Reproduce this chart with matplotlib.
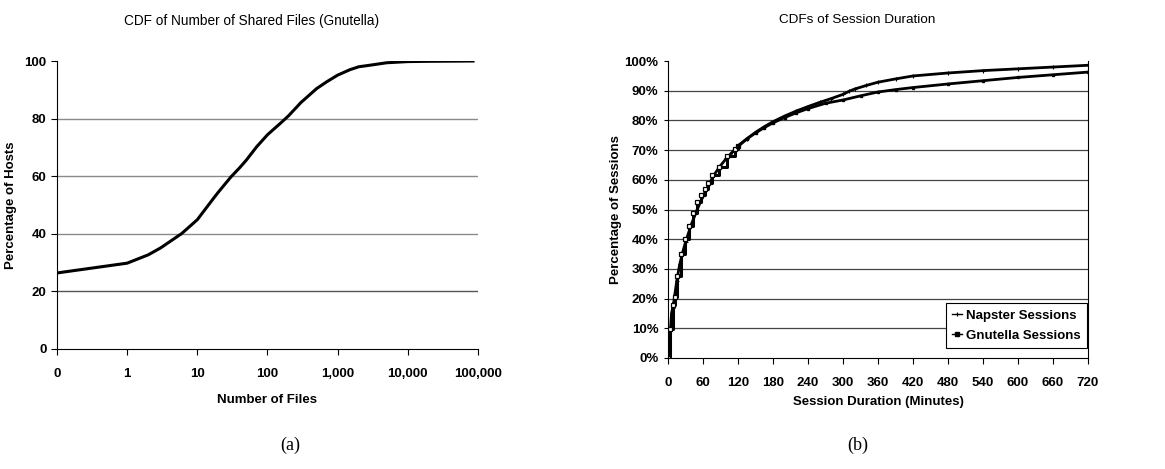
"""
Two-panel CDF figure: shared files (Gnutella) and session duration (Napster vs Gnutella).
"""

import matplotlib

matplotlib.use("Agg")
import matplotlib.pyplot as plt
from matplotlib.ticker import FixedLocator, FuncFormatter

# (a) CDF of number of shared files
files_counts = [0, 1, 2, 3, 6, 10, 17, 20, 30, 40, 50, 70, 100, 150, 200,
                300, 400, 500, 700, 1000, 1500, 2000, 3000, 5000, 10000,
                20000, 85000]
hosts_pct = [26.4, 29.8, 32.7, 35.1, 40.1, 44.9, 52.3, 54.5, 59.7, 62.9,
             65.6, 70.2, 74.4, 78.2, 81.0, 85.6, 88.3, 90.4, 92.8, 95.1,
             97.0, 98.0, 98.6, 99.4, 99.8, 99.9, 100.0]
files_ticks = [0, 1, 10, 100, 1000, 10000, 100000]

# (b) CDFs of session duration
napster_min = [0, 2, 4, 6, 8, 10, 15, 20, 25, 30, 40, 50, 60, 70, 80, 90,
               100, 110, 120, 135, 150, 165, 180, 200, 220, 240, 260, 280,
               300, 310, 320, 340, 360, 390, 420, 480, 540, 600, 660, 720]
napster_pct = [0, 3, 9, 15, 17, 19, 26, 31.5, 35.5, 39, 45, 50, 54.5, 58.5,
               62, 64.8, 67.2, 69.3, 71.2, 73.8, 76, 77.9, 79.6, 81.5, 83.2,
               84.7, 86.1, 87.4, 88.8, 89.8, 90.6, 91.8, 92.9, 94.0, 95.0,
               96.0, 96.8, 97.4, 98.0, 98.6]
# early part of Gnutella curve is coarse and drawn as steps
gnutella_step_min = [0, 3, 8, 12, 15, 22, 28.5, 35.6, 42, 50, 56, 63, 69,
                     75, 87, 101, 115, 120]
gnutella_step_pct = [0, 9.7, 18, 20.7, 27.6, 35, 40, 44.6, 49, 52.5, 55,
                     57, 59, 61.5, 64.5, 68, 70.5, 71.5]
gnutella_min = [120, 135, 150, 165, 180, 200, 220, 240, 270, 300, 330, 360,
                390, 420, 480, 540, 600, 660, 720]
gnutella_pct = [71.5, 73.8, 75.8, 77.6, 79.2, 81, 82.6, 84, 85.8, 86.9,
                88.3, 89.6, 90.4, 91.1, 92.3, 93.4, 94.5, 95.4, 96.3]
duration_ticks = list(range(0, 721, 60))
session_ticks = list(range(0, 101, 10))

SANS = "Liberation Sans"
SERIF = "Liberation Serif"
plt.rcParams["font.family"] = SANS

fig = plt.figure(figsize=(11.65, 4.69), dpi=100)

# ---- panel (a)
ax1 = fig.add_axes([0.0489, 0.2559, 0.3614, 0.614])
ax1.set_xscale("symlog", linthresh=1, linscale=0.9)
ax1.plot(files_counts, hosts_pct, color="black", linewidth=2.2,
         solid_joinstyle="round")
ax1.set_xlim(0, 100000)
ax1.set_ylim(0, 100)
ax1.xaxis.set_major_locator(FixedLocator(files_ticks))
ax1.xaxis.set_minor_locator(FixedLocator([]))
ax1.xaxis.set_major_formatter(FuncFormatter(lambda v, _: f"{int(round(v)):,}"))
ax1.set_yticks(range(0, 101, 20))
for yv in range(20, 100, 20):
    ax1.axhline(yv, color="#555555" if yv == 20 else "#8a8a8a",
                linewidth=1.0, zorder=0)
for side in ("top", "right"):
    ax1.spines[side].set_visible(False)
ax1.spines["left"].set_linewidth(0.8)
ax1.spines["bottom"].set_linewidth(0.8)
ax1.tick_params(axis="x", direction="out", length=4, width=0.8,
                labelsize=9.5, pad=10)
ax1.tick_params(axis="y", direction="out", length=4, width=0.8,
                labelsize=9.5, pad=3.5)
for lab in ax1.get_xticklabels() + ax1.get_yticklabels():
    lab.set_fontweight("bold")
ax1.set_xlabel("Number of Files", fontsize=9.5, fontweight="bold", labelpad=10)
ax1.set_ylabel("Percentage of Hosts", fontsize=9.5, fontweight="bold", labelpad=5)
fig.text(0.216, 0.955, "CDF of Number of Shared Files (Gnutella)",
         ha="center", va="center", fontsize=9.8)
fig.text(0.249, 0.051, "(a)", ha="center", va="center", fontsize=13,
         family=SERIF)

# ---- panel (b)
ax2 = fig.add_axes([0.5734, 0.2367, 0.3605, 0.633])
ax2.plot(napster_min, napster_pct, color="black", linewidth=2.0,
         marker="+", markersize=2.5, markeredgewidth=0.8,
         label="Napster Sessions")
ax2.plot(gnutella_step_min, gnutella_step_pct, color="black", linewidth=2.2,
         drawstyle="steps-post", marker="s", markersize=3.5,
         markerfacecolor="white", markeredgewidth=0.9)
ax2.plot(gnutella_min, gnutella_pct, color="black", linewidth=2.0,
         marker="s", markersize=1.6, label="Gnutella Sessions")
ax2.set_xlim(0, 720)
ax2.set_ylim(0, 100)
ax2.set_xticks(duration_ticks)
ax2.set_yticks(session_ticks)
ax2.yaxis.set_major_formatter(FuncFormatter(lambda v, _: f"{int(v)}%"))
for yv in session_ticks[1:-1]:
    ax2.axhline(yv, color="#444444", linewidth=0.9, zorder=0)
ax2.spines["top"].set_visible(False)
for side in ("left", "bottom", "right"):
    ax2.spines[side].set_linewidth(0.8)
ax2.tick_params(axis="x", direction="out", length=4, width=0.8,
                labelsize=9.5, pad=10)
ax2.tick_params(axis="y", direction="out", length=3, width=0.8,
                labelsize=9.5, pad=4, right=False)
for lab in ax2.get_xticklabels() + ax2.get_yticklabels():
    lab.set_fontweight("bold")
ax2.set_xlabel("Session Duration (Minutes)", fontsize=9.5, fontweight="bold",
               labelpad=5)
ax2.set_ylabel("Percentage of Sessions", fontsize=9.5, fontweight="bold",
               labelpad=2)
leg = ax2.legend(loc="lower right", bbox_to_anchor=(0.997, 0.035),
                 prop={"family": SANS, "weight": "bold", "size": 9.5},
                 frameon=True, fancybox=False, framealpha=1,
                 edgecolor="black", handlelength=0.8, handletextpad=0.3,
                 borderpad=0.45, labelspacing=0.6, borderaxespad=0)
leg.get_frame().set_linewidth(0.8)
for line in leg.get_lines():
    line.set_linewidth(1.0)
    line.set_markersize(2.5)
fig.text(0.7356, 0.957, "CDFs of Session Duration", ha="center",
         va="center", fontsize=9.7)
fig.text(0.736, 0.051, "(b)", ha="center", va="center", fontsize=13,
         family=SERIF)

fig.savefig("out.png", dpi=100)
